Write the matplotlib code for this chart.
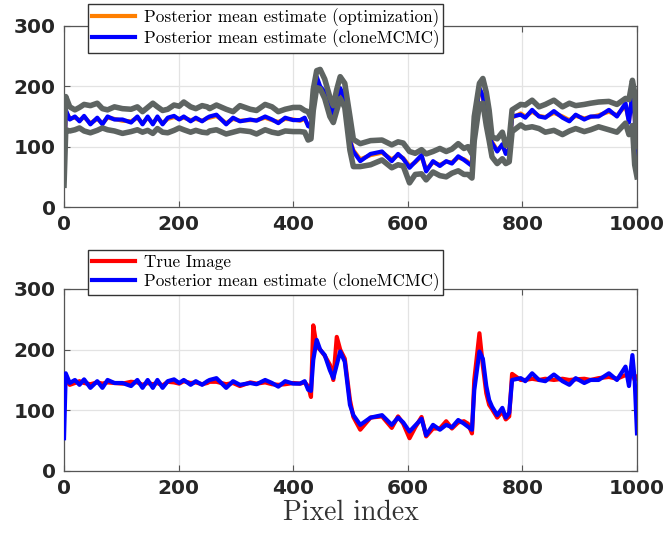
import matplotlib
matplotlib.use("Agg")
import matplotlib.pyplot as plt
import numpy as np

# ---- data ----
pixel = [0, 3, 10, 19, 27, 35, 46, 58, 67, 76,
         88, 102, 117, 128, 137, 146, 155, 163, 172, 181,
         192, 201, 209, 221, 230, 241, 250, 254, 266, 283,
         295, 307, 325, 336, 351, 363, 374, 386, 400, 412,
         420, 426, 431, 435, 441, 447, 455, 464, 470, 476,
         482, 490, 499, 505, 517, 535, 555, 572, 583, 592,
         603, 613, 624, 632, 644, 656, 667, 677, 688, 698,
         705, 712, 716, 725, 731, 737, 742, 747, 756, 765,
         771, 777, 782, 797, 805, 817, 829, 840, 855, 870,
         882, 893, 908, 919, 933, 951, 965, 980, 986, 992,
         996, 1000]

mean_mcmc = [54, 161, 145, 150, 142, 151, 137, 148, 137, 150,
             145, 145, 140, 150, 137, 150, 137, 150, 137, 148,
             151, 145, 150, 142, 148, 142, 148, 150, 153, 137,
             148, 142, 145, 143, 150, 145, 139, 148, 144, 144,
             148, 134, 132, 183, 216, 200, 191, 166, 153, 175,
             197, 180, 109, 92, 76, 88, 92, 76, 88, 80,
             65, 75, 86, 59, 76, 68, 76, 72, 84, 78,
             73, 68, 133, 197, 185, 140, 117, 106, 92, 104,
             88, 96, 150, 153, 148, 161, 150, 148, 159, 148,
             142, 153, 145, 150, 150, 161, 150, 172, 140, 191,
             150, 62]

mean_opt = [56, 158, 147, 148, 144, 149, 139, 146, 139, 148,
            146, 143, 142, 148, 139, 148, 139, 148, 139, 146,
            149, 146, 148, 144, 146, 143, 147, 148, 151, 139,
            146, 143, 144, 144, 148, 144, 141, 146, 145, 143,
            146, 136, 134, 180, 212, 198, 188, 164, 151, 172,
            193, 178, 112, 94, 79, 86, 90, 79, 86, 81,
            68, 74, 84, 62, 74, 70, 75, 74, 82, 79,
            75, 70, 130, 194, 183, 142, 119, 108, 94, 102,
            90, 97, 148, 155, 150, 158, 151, 149, 156, 150,
            144, 151, 147, 149, 152, 158, 152, 168, 143, 186,
            152, 64]

upper = [120, 183, 166, 161, 165, 170, 168, 172, 163, 161,
         166, 163, 162, 166, 158, 165, 172, 166, 160, 162,
         169, 167, 174, 166, 163, 168, 166, 163, 169, 162,
         158, 168, 162, 160, 170, 166, 158, 162, 165, 165,
         160, 158, 148, 195, 226, 228, 212, 182, 168, 195,
         216, 205, 150, 112, 105, 110, 111, 103, 108, 106,
         92, 89, 95, 88, 92, 97, 92, 96, 105, 97,
         100, 88, 150, 205, 213, 190, 160, 116, 113, 124,
         102, 112, 161, 170, 169, 177, 166, 170, 177, 166,
         172, 168, 170, 172, 174, 175, 170, 180, 178, 210,
         189, 100]

lower = [36, 128, 126, 128, 131, 126, 123, 127, 131, 128,
         126, 122, 125, 128, 124, 127, 122, 130, 124, 123,
         127, 131, 128, 124, 127, 124, 123, 126, 128, 121,
         124, 127, 125, 121, 128, 124, 122, 126, 125, 125,
         124, 111, 113, 160, 198, 196, 180, 150, 140, 160,
         180, 165, 94, 67, 67, 70, 78, 65, 70, 68,
         40, 54, 55, 45, 58, 52, 50, 56, 60, 54,
         54, 48, 110, 170, 172, 135, 110, 83, 72, 80,
         72, 75, 125, 136, 131, 133, 130, 124, 127, 120,
         126, 130, 125, 128, 133, 128, 124, 139, 120, 135,
         70, 50]

true_image = [145, 150, 142, 145, 148, 145, 143, 146, 144, 146,
              145, 144, 147, 146, 142, 145, 143, 145, 141, 147,
              146, 144, 148, 145, 146, 143, 145, 147, 147, 143,
              145, 140, 146, 144, 146, 143, 142, 143, 145, 144,
              146, 140, 122, 240, 205, 200, 190, 175, 150, 221,
              200, 185, 117, 89, 68, 88, 90, 71, 90, 78,
              54, 72, 89, 57, 70, 70, 82, 70, 80, 82,
              78, 62, 150, 227, 173, 128, 109, 102, 88, 98,
              85, 90, 160, 150, 150, 152, 150, 152, 150, 152,
              150, 151, 152, 150, 153, 155, 152, 158, 155, 160,
              150, 155]

xticks = [0, 200, 400, 600, 800, 1000]
yticks = [0, 100, 200, 300]

# ---- styling ----
C_OPT = "#ff7f00"
C_MCMC = "#0000ff"
C_BAND = "#5e6462"
C_TRUE = "#ff0000"
TICK_COLOR = "#262626"
SERIF = ["cmr10", "DejaVu Serif"]

fig = plt.figure(figsize=(6.67, 5.36), dpi=100)
ax1 = fig.add_axes([0.096, 0.6138, 0.859, 0.3377])
ax2 = fig.add_axes([0.096, 0.1213, 0.859, 0.3396])


def style(ax):
    ax.set_xlim(0, 1000)
    ax.set_ylim(0, 300)
    ax.set_xticks(xticks)
    ax.set_yticks(yticks)
    ax.grid(True, color="#e3e3e3", linewidth=0.9)
    ax.set_axisbelow(True)
    ax.tick_params(direction="in", top=True, right=True, length=4,
                   width=0.8, color="#555555", labelsize=14.5,
                   labelcolor=TICK_COLOR, pad=6)
    for lab in ax.get_xticklabels() + ax.get_yticklabels():
        lab.set_fontweight("bold")
    for sp in ax.spines.values():
        sp.set_color("#555555")
        sp.set_linewidth(0.9)


# top panel
l1, = ax1.plot(pixel, mean_opt, color=C_OPT, lw=3, zorder=3,
               label="Posterior mean estimate (optimization)")
l2, = ax1.plot(pixel, mean_mcmc, color=C_MCMC, lw=3, zorder=4,
               label="Posterior mean estimate (cloneMCMC)")
ax1.plot(pixel, upper, color=C_BAND, lw=4, zorder=5)
ax1.plot(pixel, lower, color=C_BAND, lw=4, zorder=5)
style(ax1)

# bottom panel
l3, = ax2.plot(pixel, true_image, color=C_TRUE, lw=3, zorder=3,
               label="True Image")
l4, = ax2.plot(pixel, mean_mcmc, color=C_MCMC, lw=3, zorder=4,
               label="Posterior mean estimate (cloneMCMC)")
style(ax2)
ax2.set_xlabel("Pixel index", fontfamily=SERIF, fontsize=20,
               color="#333333", labelpad=1)

leg_kw = dict(loc="upper left", frameon=True, fancybox=False,
              edgecolor="#333333", framealpha=1.0, borderpad=0.25,
              handlelength=2.5, handletextpad=0.5, labelspacing=0.15,
              borderaxespad=0.0,
              prop={"family": SERIF, "size": 12.3})
leg1 = fig.legend(handles=[l1, l2], bbox_to_anchor=(0.132, 0.9925), **leg_kw)
leg2 = fig.legend(handles=[l3, l4], bbox_to_anchor=(0.132, 0.533), **leg_kw)
for lg in (leg1, leg2):
    lg.get_frame().set_linewidth(1.0)
    lg.set_zorder(10)

fig.savefig("out.png", dpi=100)
